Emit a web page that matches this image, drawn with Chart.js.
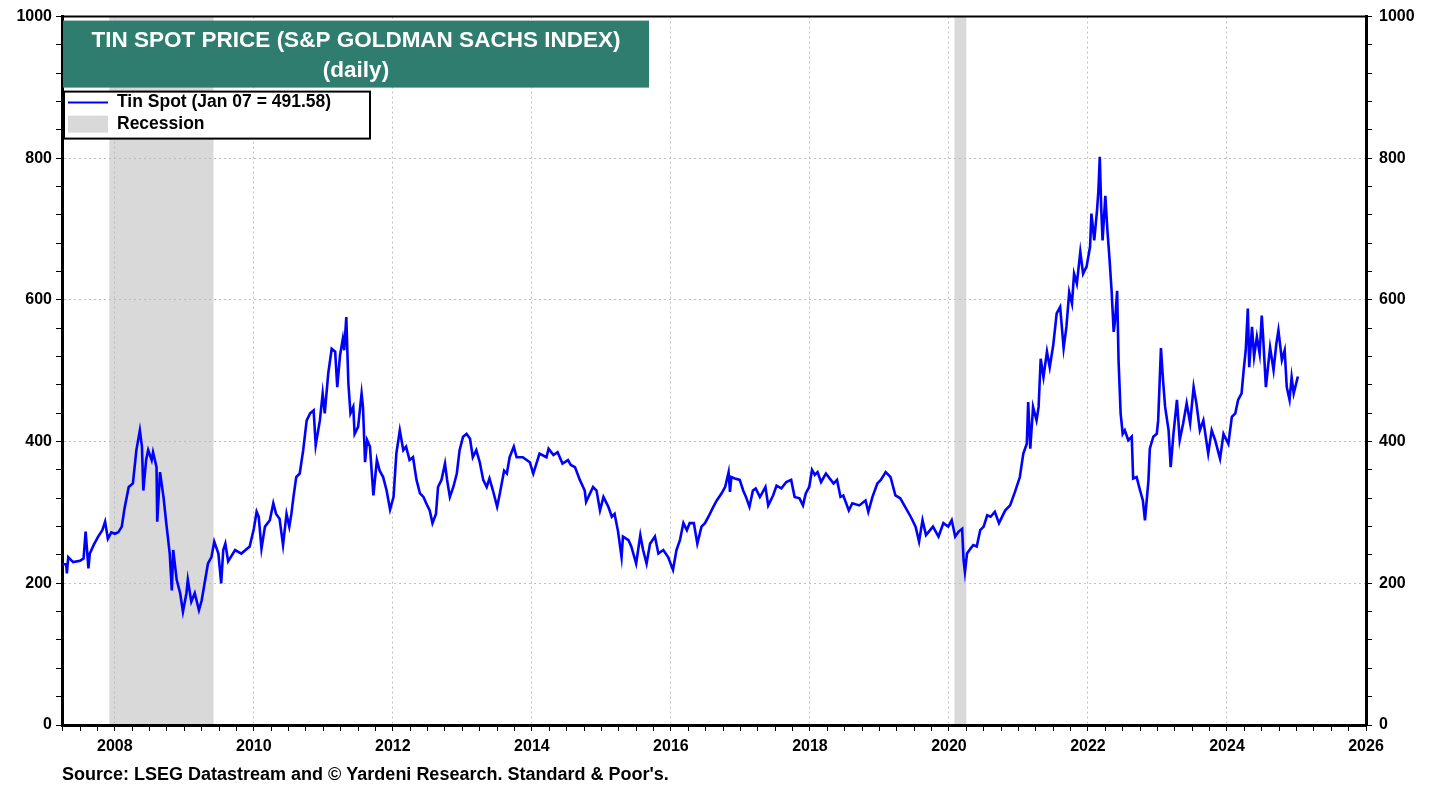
<!DOCTYPE html>
<html><head><meta charset="utf-8">
<script src="https://cdn.jsdelivr.net/npm/chart.js@4.4.1/dist/chart.umd.min.js"></script>
<style>html,body{margin:0;padding:0;background:#fff;}#wrap{width:1438px;height:789px;}</style>
</head><body><div id="wrap"><canvas id="c" width="1438" height="789"></canvas></div>
<script>
// ---- data (decimal years, index values) ----
const dates = [
2007.24,2007.30,2007.31,2007.33,2007.40,2007.50,2007.55,2007.58,2007.62,2007.64,2007.70,2007.76,2007.82,2007.86,2007.90,2007.95,
2008.00,2008.05,2008.10,2008.14,2008.20,2008.26,2008.31,2008.36,2008.39,2008.41,2008.45,2008.48,2008.53,2008.55,2008.60,2008.61,
2008.65,2008.70,2008.74,2008.79,2008.82,2008.84,2008.89,2008.94,2008.98,
2009.03,2009.05,2009.10,2009.15,2009.21,2009.25,2009.30,2009.34,2009.39,2009.43,2009.49,2009.53,2009.56,2009.59,2009.63,2009.73,2009.82,2009.94,
2010.00,2010.04,2010.07,2010.11,2010.16,2010.23,2010.28,2010.32,2010.37,2010.42,2010.47,2010.51,2010.54,2010.57,2010.61,2010.66,
2010.71,2010.76,2010.81,2010.86,2010.89,2010.95,2010.99,
2011.02,2011.07,2011.12,2011.17,2011.20,2011.24,2011.28,2011.30,2011.33,2011.36,2011.39,2011.43,2011.45,2011.50,2011.55,2011.57,
2011.60,2011.63,2011.67,2011.72,2011.77,2011.81,2011.86,2011.91,2011.96,
2012.01,2012.05,2012.10,2012.15,2012.19,2012.24,2012.29,2012.34,2012.39,2012.44,2012.48,2012.53,2012.57,2012.62,2012.65,2012.70,
2012.75,2012.78,2012.82,2012.87,2012.92,2012.96,
2013.01,2013.06,2013.11,2013.15,2013.20,2013.25,2013.30,2013.35,2013.39,2013.44,2013.50,2013.54,2013.60,2013.64,2013.68,2013.74,
2013.78,2013.87,2013.97,
2014.02,2014.11,2014.21,2014.24,2014.31,2014.37,2014.44,2014.52,2014.56,2014.62,2014.69,2014.76,2014.78,2014.88,2014.93,2014.98,
2015.03,2015.10,2015.15,2015.19,2015.24,2015.29,2015.31,2015.39,2015.43,2015.50,2015.56,2015.60,2015.65,2015.70,2015.77,2015.82,
2015.89,2015.96,
2016.03,2016.08,2016.13,2016.18,2016.23,2016.27,2016.33,2016.38,2016.44,2016.49,2016.54,2016.61,2016.66,2016.73,2016.78,2016.83,
2016.85,2016.87,2016.92,2016.99,
2017.04,2017.08,2017.13,2017.18,2017.22,2017.28,2017.31,2017.36,2017.40,2017.47,2017.52,2017.59,2017.66,2017.73,2017.78,2017.85,
2017.90,2017.94,2017.99,
2018.03,2018.07,2018.11,2018.16,2018.23,2018.30,2018.34,2018.39,2018.44,2018.48,2018.56,2018.61,2018.71,2018.80,2018.84,2018.90,
2018.97,
2019.02,2019.09,2019.16,2019.23,2019.30,2019.37,2019.45,2019.52,2019.57,2019.62,2019.67,2019.77,2019.85,2019.92,2019.99,
2020.04,2020.09,2020.14,2020.19,2020.21,2020.23,2020.26,2020.31,2020.35,2020.40,2020.45,2020.50,2020.55,2020.60,2020.66,2020.72,
2020.81,2020.88,2020.95,
2021.02,2021.07,2021.12,2021.14,2021.17,2021.21,2021.26,2021.29,2021.32,2021.36,2021.41,2021.45,2021.50,2021.55,2021.60,2021.65,
2021.69,2021.73,2021.77,2021.80,2021.84,2021.89,2021.93,2021.98,
2022.03,2022.05,2022.09,2022.13,2022.15,2022.17,2022.19,2022.21,2022.25,2022.28,2022.31,2022.34,2022.37,2022.39,2022.42,2022.44,
2022.47,2022.50,2022.53,2022.58,2022.63,2022.65,2022.70,2022.75,2022.79,2022.82,2022.87,2022.89,2022.94,2022.99,
2023.01,2023.05,2023.08,2023.11,2023.16,2023.19,2023.23,2023.28,2023.32,2023.37,2023.42,2023.47,2023.52,2023.56,2023.61,2023.66,
2023.73,2023.78,2023.83,2023.90,2023.95,
2024.02,2024.07,2024.12,2024.16,2024.21,2024.24,2024.27,2024.30,2024.32,2024.36,2024.39,2024.43,2024.47,2024.50,2024.52,2024.56,
2024.58,2024.62,2024.67,2024.71,2024.74,2024.79,2024.83,2024.86,2024.90,2024.93,2024.96,2025.02
];
const tinSpot = [
227,227,214,237,230,232,235,273,221,242,255,266,275,287,263,272,
270,272,280,306,336,341,388,416,393,331,374,388,374,385,364,287,
357,322,285,242,190,247,205,186,160,
186,205,174,186,162,176,205,228,237,259,242,200,247,256,231,247,242,252,
277,301,294,249,280,289,313,298,291,254,298,280,298,322,350,355,
388,430,440,444,395,430,468,
440,496,531,527,477,522,545,529,576,482,440,449,411,421,468,449,
371,402,393,324,374,359,350,331,304,
322,383,416,388,393,374,378,346,327,322,313,303,285,298,336,346,
369,346,322,336,355,388,
407,411,404,378,388,371,346,336,348,331,308,327,359,355,378,393,
378,378,371,
355,383,378,390,381,385,369,374,367,364,346,331,315,336,331,303,
322,308,294,298,273,237,266,261,252,228,268,247,228,256,266,242,
247,237,
219,247,261,285,275,285,285,256,280,285,294,308,317,327,336,357,
329,350,348,346,
331,322,308,331,334,322,327,336,310,324,338,334,343,346,322,320,
310,327,336,
360,353,357,343,355,346,341,346,322,324,303,313,310,317,301,322,
341,
346,357,350,324,320,308,294,280,259,289,268,280,266,285,280,
289,266,273,277,233,216,242,249,254,252,275,280,296,294,301,285,
303,310,329,
350,383,397,456,390,449,430,449,517,491,527,505,536,581,590,532,
562,611,595,637,623,668,637,647,
675,722,684,726,754,802,731,684,747,698,658,613,555,571,613,515,
440,411,416,402,407,348,350,331,317,289,345,390,407,411,
430,532,487,449,416,364,411,459,402,426,454,426,477,454,416,430,
383,416,402,376,411,
397,435,440,459,468,501,529,588,505,562,520,548,524,578,548,477,
496,533,501,538,557,515,529,477,459,491,468,492
];
const recessionStart = [2007.92, 2020.08];
const recessionEnd   = [2009.42, 2020.25];
const yearTicks  = [2008,2010,2012,2014,2016,2018,2020,2022,2024,2026];
const valueTicks = [0,200,400,600,800,1000];
const xMin = 2007.24, xMax = 2026;
const titleLines = ['TIN SPOT PRICE (S&P GOLDMAN SACHS INDEX)', '(daily)'];
const seriesLabel = 'Tin Spot (Jan 07 = 491.58)';
const recessionLabel = 'Recession';
const sourceText = "Source: LSEG Datastream and \u00A9 Yardeni Research. Standard & Poor's.";

// ---- helpers ----
const FONT = "'Liberation Sans', Arial, sans-serif";
const quarterTicks = [];
for (let y = 2007; y <= 2026; y++) for (let q = 0; q < 4; q++) {
  const v = y + q / 4; if (v >= xMin - 1e-9 && v <= xMax + 1e-9) quarterTicks.push(v);
}
const minorY = [];
for (let v = 0; v <= 1000; v += 40) minorY.push(v);
const isYearLabel = v => yearTicks.some(t => Math.abs(t - v) < 1e-6);
const isValLabel = v => valueTicks.includes(v);
const gridX = ctx => {
  const v = ctx.tick ? ctx.tick.value : null;
  return (v !== null && isYearLabel(v) && v < xMax - 0.01) ? 'rgba(185,185,185,0.9)' : 'rgba(0,0,0,0)';
};
const gridY = ctx => {
  const v = ctx.tick ? ctx.tick.value : null;
  return (v !== null && isValLabel(v) && v > 0 && v < 1000) ? 'rgba(185,185,185,0.9)' : 'rgba(0,0,0,0)';
};

const decor = {
  id: 'decor',
  beforeDraw(chart) {
    const {ctx, chartArea: a, scales: {x}} = chart;
    ctx.save();
    ctx.fillStyle = '#fff';
    ctx.fillRect(0, 0, chart.width, chart.height);
    ctx.fillStyle = '#d9d9d9';
    for (let i = 0; i < recessionStart.length; i++) {
      const x1 = x.getPixelForValue(recessionStart[i]);
      const x2 = x.getPixelForValue(recessionEnd[i]);
      ctx.fillRect(x1, a.top, x2 - x1, a.bottom - a.top);
    }
    ctx.restore();
  },
  afterDraw(chart) {
    const {ctx, chartArea: a} = chart;
    ctx.save();
    // top border
    ctx.strokeStyle = '#000'; ctx.lineWidth = 2;
    ctx.beginPath(); ctx.moveTo(a.left - 1, a.top); ctx.lineTo(a.right + 1, a.top); ctx.stroke();
    // title box
    ctx.fillStyle = '#2e7d6f';
    ctx.fillRect(a.left + 1, a.top + 4, 586, 67);
    ctx.fillStyle = '#fff';
    ctx.font = 'bold 22.5px ' + FONT;
    ctx.textAlign = 'center'; ctx.textBaseline = 'middle';
    ctx.fillText(titleLines[0], a.left + 294, a.top + 24);
    ctx.fillText(titleLines[1], a.left + 294, a.top + 54);
    // legend box
    ctx.fillStyle = '#fff';
    ctx.fillRect(a.left + 2, a.top + 75, 306, 47);
    ctx.strokeStyle = '#000'; ctx.lineWidth = 2;
    ctx.strokeRect(a.left + 2, a.top + 75, 306, 47);
    ctx.strokeStyle = '#0000ff'; ctx.lineWidth = 2;
    ctx.beginPath(); ctx.moveTo(a.left + 6, a.top + 86); ctx.lineTo(a.left + 46, a.top + 86); ctx.stroke();
    ctx.fillStyle = '#d9d9d9';
    ctx.fillRect(a.left + 6, a.top + 99, 40, 17);
    ctx.fillStyle = '#000';
    ctx.font = 'bold 17.5px ' + FONT;
    ctx.textAlign = 'left'; ctx.textBaseline = 'middle';
    ctx.fillText(seriesLabel, a.left + 55, a.top + 86);
    ctx.fillText(recessionLabel, a.left + 55, a.top + 108);
    // source
    ctx.font = 'bold 18px ' + FONT;
    ctx.fillText(sourceText, a.left, 775);
    ctx.restore();
  }
};

Chart.defaults.font.family = FONT;
Chart.defaults.font.size = 16;
Chart.defaults.font.weight = 'bold';
Chart.defaults.color = '#000';

new Chart(document.getElementById('c'), {
  type: 'line',
  data: {
    datasets: [{
      label: seriesLabel,
      data: dates.map((d, i) => ({x: d, y: tinSpot[i]})),
      borderColor: '#0000ff',
      borderWidth: 2.6,
      pointRadius: 0,
      tension: 0,
      fill: false
    }]
  },
  options: {
    responsive: false,
    animation: false,
    devicePixelRatio: 1,
    layout: {padding: {top: 16, bottom: 24, left: 0, right: 0}},
    plugins: {legend: {display: false}, tooltip: {enabled: false}, title: {display: false}},
    scales: {
      x: {
        type: 'linear', min: xMin, max: xMax,
        afterBuildTicks: s => { s.ticks = quarterTicks.map(v => ({value: v})); },
        afterFit: s => { s.height = 40; },
        ticks: {
          autoSkip: false, maxRotation: 0, padding: 6,
          callback: v => isYearLabel(v) ? String(Math.round(v)) : ''
        },
        grid: {color: gridX, lineWidth: 1, tickLength: 6, tickColor: '#000', tickWidth: 1},
        border: {color: '#000', width: 3, dash: [2, 3]}
      },
      y: {
        position: 'left', min: 0, max: 1000,
        afterBuildTicks: s => { s.ticks = minorY.map(v => ({value: v})); },
        afterFit: s => { s.width = 62; },
        ticks: {autoSkip: false, padding: 4, callback: v => isValLabel(v) ? String(v) : ''},
        grid: {color: gridY, lineWidth: 1, tickLength: 6, tickColor: '#000', tickWidth: 1},
        border: {color: '#000', width: 3, dash: [2, 3]}
      },
      y2: {
        position: 'right', min: 0, max: 1000,
        afterBuildTicks: s => { s.ticks = minorY.map(v => ({value: v})); },
        afterFit: s => { s.width = 72; },
        ticks: {autoSkip: false, padding: 7, callback: v => isValLabel(v) ? String(v) : ''},
        grid: {drawOnChartArea: false, tickLength: 6, tickColor: '#000', tickWidth: 1},
        border: {color: '#000', width: 3}
      }
    }
  },
  plugins: [decor]
});
</script>
</body></html>
